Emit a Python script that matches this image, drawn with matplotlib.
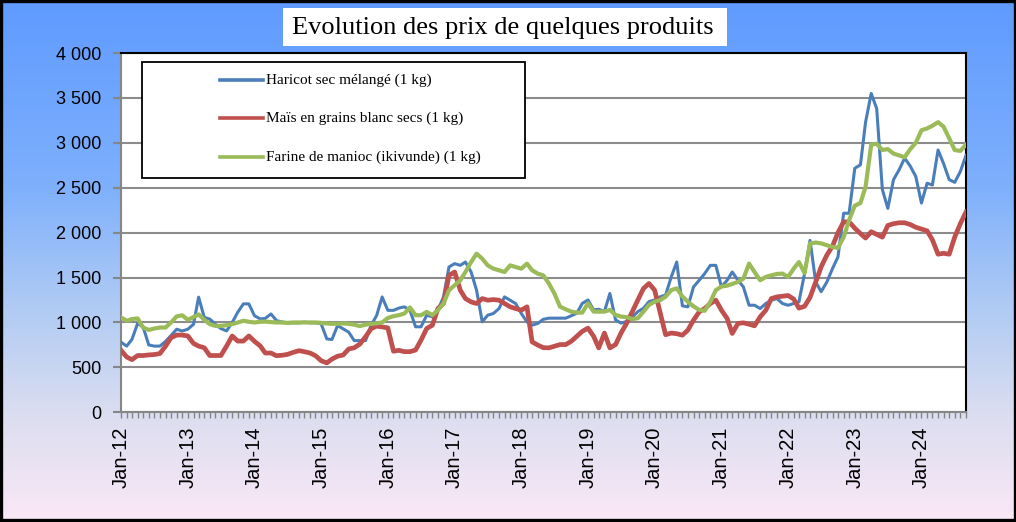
import matplotlib
matplotlib.use("Agg")
import matplotlib.pyplot as plt
import matplotlib.dates as mdates
from matplotlib.patches import Rectangle
from matplotlib.lines import Line2D
import numpy as np
import pandas as pd

plt.rcParams["font.family"] = "Liberation Sans"

# monthly prices, Jan 2012 .. Sep 2024
months = pd.date_range("2012-01-01", periods=153, freq="MS")

haricot = [
    780, 737, 812, 990, 950, 750, 737, 737, 790, 855, 925, 905,
    925, 980, 1282, 1056, 1038, 980, 932, 906, 1000, 1113, 1207, 1207,
    1075, 1040, 1045, 1095, 1022, 1004, 996, 996, 996, 1004, 996, 996,
    985, 817, 810, 966, 929, 892, 798, 798, 798, 966, 1079, 1284,
    1135, 1135, 1160, 1174, 1137, 952, 952, 1081, 1063, 1137, 1285, 1618,
    1655, 1636, 1673, 1562, 1359, 1007, 1081, 1100, 1155, 1285, 1248, 1211,
    1100, 1007, 970, 989, 1035, 1048, 1048, 1048, 1048, 1074, 1103, 1213,
    1250, 1140, 1147, 1121, 1323, 1029, 993, 1011, 1059, 1121, 1158, 1232,
    1250, 1287, 1305, 1507, 1673, 1185, 1174, 1396, 1470, 1544, 1636, 1636,
    1396, 1470, 1562, 1470, 1396, 1192, 1192, 1155, 1211, 1248, 1266, 1211,
    1192, 1211, 1229, 1544, 1914, 1450, 1343, 1450, 1600, 1730, 2216, 2216,
    2717, 2755, 3230, 3550, 3380, 2480, 2270, 2590, 2700, 2830, 2740, 2625,
    2330, 2550, 2530, 2920, 2770, 2590, 2560, 2680, 2860,
]

mais = [
    690, 616, 586, 632, 632, 639, 643, 654, 737, 830, 860, 860,
    850, 767, 737, 718, 632, 632, 632, 737, 850, 793, 793, 850,
    790, 740, 660, 660, 630, 635, 645, 667, 686, 675, 660, 630,
    574, 550, 592, 625, 637, 705, 718, 760, 840, 930, 960, 950,
    940, 680, 690, 675, 675, 693, 804, 933, 970, 1155, 1211, 1525,
    1562, 1359, 1266, 1229, 1211, 1266, 1248, 1255, 1248, 1211, 1174, 1155,
    1137, 1174, 785, 748, 720, 717, 735, 754, 754, 790, 846, 901,
    937, 846, 717, 882, 717, 754, 882, 993, 1121, 1250, 1379, 1434,
    1360, 1103, 864, 882, 875, 859, 915, 1026, 1118, 1155, 1211, 1248,
    1137, 1044, 878, 989, 996, 981, 963, 1063, 1137, 1266, 1285, 1292,
    1300, 1260, 1160, 1180, 1280, 1450, 1620, 1750, 1850, 2000, 2120, 2120,
    2050, 1990, 1940, 2010, 1980, 1950, 2080, 2100, 2110, 2110, 2090, 2060,
    2040, 2020, 1920, 1760, 1770, 1760, 1950, 2100, 2230,
]

farine = [
    1056, 1019, 1038, 1045, 944, 917, 932, 944, 944, 1000, 1068, 1080,
    1030, 1060, 1090, 1030, 981, 962, 962, 970, 981, 1000, 1019, 1008,
    1000, 1008, 1010, 1005, 1000, 1000, 995, 1000, 1000, 1000, 1000, 1000,
    995, 990, 985, 985, 990, 985, 975, 960, 975, 985, 990, 1000,
    1050, 1070, 1081, 1100, 1167, 1081, 1081, 1118, 1081, 1137, 1211, 1359,
    1414, 1470, 1562, 1673, 1766, 1710, 1636, 1599, 1581, 1562, 1636, 1618,
    1599, 1655, 1581, 1544, 1525, 1434, 1323, 1176, 1147, 1121, 1110, 1110,
    1213, 1121, 1121, 1121, 1140, 1085, 1066, 1059, 1037, 1048, 1121, 1195,
    1232, 1250, 1287, 1360, 1380, 1290, 1230, 1180, 1140, 1130, 1230, 1360,
    1400, 1410, 1430, 1451, 1488, 1655, 1562, 1470, 1507, 1525, 1540, 1544,
    1507, 1600, 1673, 1550, 1880, 1890, 1880, 1860, 1840, 1830, 1950, 2140,
    2300, 2330, 2510, 2980, 2990, 2920, 2930, 2880, 2860, 2840, 2930, 3000,
    3140, 3160, 3190, 3230, 3180, 3050, 2920, 2910, 2980,
]

labels = ["Haricot sec mélangé (1 kg)",
          "Maïs en grains blanc secs (1 kg)",
          "Farine de manioc (ikivunde) (1 kg)"]
colors = ["#4A7EBB", "#C0504D", "#9BBB59"]
widths = [2.2, 3.4, 3.0]
yticks = list(range(0, 4001, 500))

W, H = 1016, 522
fig = plt.figure(figsize=(W / 100, H / 100), dpi=100)

# blue-to-pink backdrop
bg = fig.add_axes([0, 0, 1, 1], zorder=-5)
stops = np.array([0.0, 0.35, 0.6, 0.8, 1.0])
cols = np.array([[95, 155, 255], [125, 175, 252], [178, 204, 244],
                 [220, 222, 240], [250, 232, 246]]) / 255.0
t = np.linspace(0, 1, 300)
grad = np.stack([np.interp(t, stops, cols[:, k]) for k in range(3)], axis=1)
bg.imshow(grad[:, None, :], aspect="auto", extent=[0, 1, 0, 1], origin="upper")
bg.set_xlim(0, 1); bg.set_ylim(0, 1)
bg.axis("off")

# title box
fig.patches.append(Rectangle((283 / W, 1 - 46 / H), 444 / W, 38 / H,
                             transform=fig.transFigure, facecolor="white",
                             edgecolor="none", zorder=1))
fig.text(503 / W, 1 - 28 / H, "Evolution des prix de quelques produits",
         family="Liberation Serif", fontsize=19, ha="center", va="center",
         zorder=2)

ax = fig.add_axes([121 / W, 1 - 412.3 / H, 845 / W, 359.3 / H])
ax.set_facecolor("white")
for vals, c, lw in zip([haricot, mais, farine], colors, widths):
    ax.plot(months, vals, color=c, lw=lw, solid_joinstyle="round", zorder=3)

ax.set_ylim(0, 4000)
ax.set_xlim(months[0], months[-1])
ax.set_yticks(yticks)
ax.set_yticklabels([f"{v:,}".replace(",", " ") for v in yticks], fontsize=13)
ax.grid(axis="y", color="#8C8C8C", lw=1.5)
ax.set_axisbelow(True)

ax.xaxis.set_major_locator(mdates.YearLocator(month=1, day=1))
ax.xaxis.set_major_formatter(mdates.DateFormatter("%b-%y"))
ax.xaxis.set_minor_locator(mdates.MonthLocator())
ax.tick_params(axis="x", which="both", length=4, width=1, color="#868686",
               direction="out", pad=6, labelrotation=90, labelsize=14.5)
ax.tick_params(axis="y", length=6, width=1.5, color="#868686", pad=8)

for s in ("left", "bottom"):
    ax.spines[s].set_color("#868686")
    ax.spines[s].set_linewidth(1.5)
for s in ("top", "right"):
    ax.spines[s].set_color("black")
    ax.spines[s].set_linewidth(1.5)

# legend box drawn by hand in axes coordinates
ax.add_patch(Rectangle((0.0249, 0.652), 0.453, 0.323, transform=ax.transAxes,
                       facecolor="white", edgecolor="black", lw=1.3, zorder=5))
for k, (lab, c, lw) in enumerate(zip(labels, colors, widths)):
    yy = 0.925 - k * 0.107
    ax.add_line(Line2D([0.117, 0.168], [yy, yy], transform=ax.transAxes,
                       color=c, lw=2.6, zorder=6))
    ax.text(0.1716, yy, lab, transform=ax.transAxes, va="center", ha="left",
            family="Liberation Serif", fontsize=11, zorder=6)

# outer frame
fig.patches.append(Rectangle((0.001, 0.003), 0.998, 0.995,
                             transform=fig.transFigure, fill=False,
                             edgecolor="black", lw=2.4, zorder=10))

fig.savefig("out.png", dpi=100)
